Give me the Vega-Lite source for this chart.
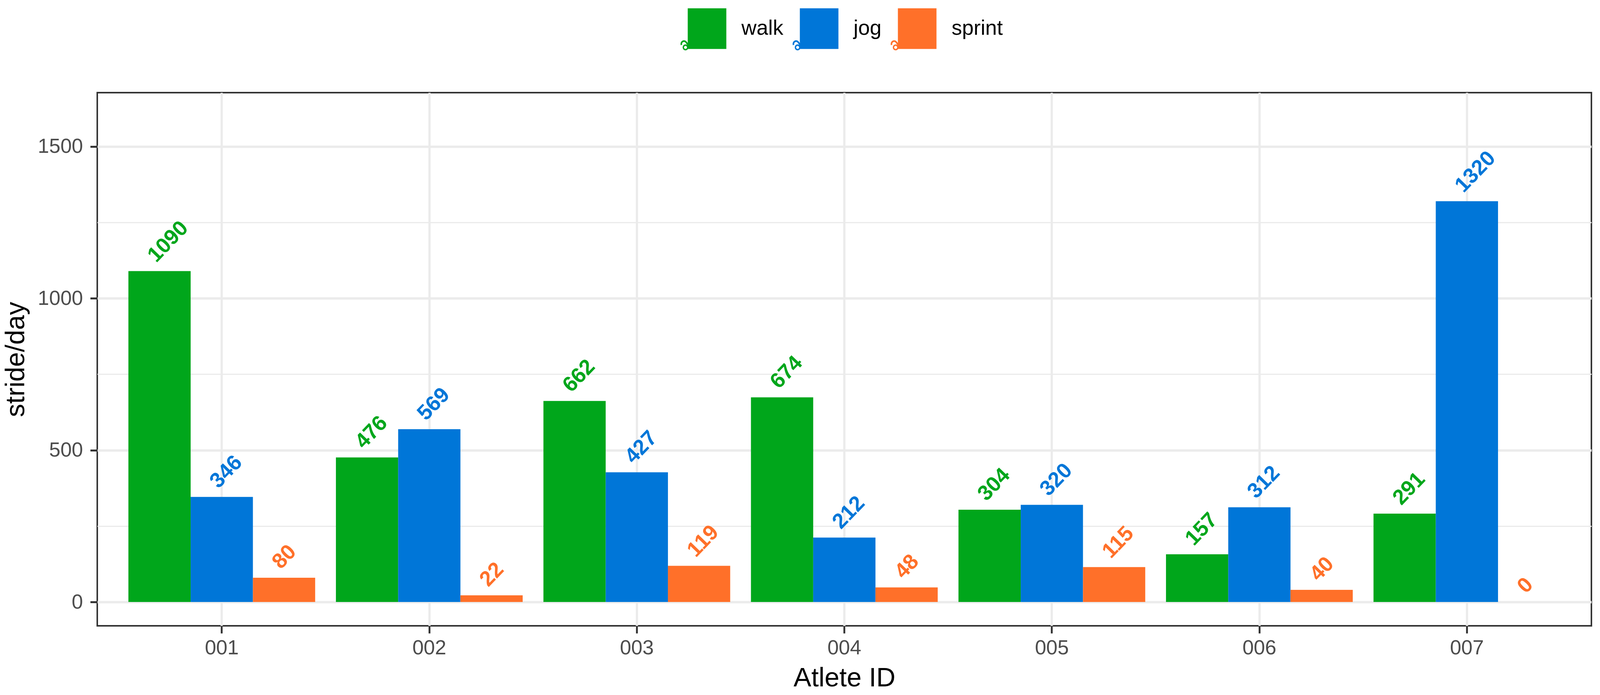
{
  "$schema": "https://vega.github.io/schema/vega-lite/v6.json",
  "autosize": {"type": "none"},
  "padding": {"left": 249, "top": 237, "right": 18, "bottom": 177},
  "width": 3825,
  "height": 1364,
  "background": "white",
  "config": {
    "font": "Liberation Sans",
    "view": {"stroke": "#333333", "strokeWidth": 3.9}
  },
  "data": {
    "values": [
      {"athlete": "001", "activity": "walk", "strides": 1090},
      {"athlete": "001", "activity": "jog", "strides": 346},
      {"athlete": "001", "activity": "sprint", "strides": 80},
      {"athlete": "002", "activity": "walk", "strides": 476},
      {"athlete": "002", "activity": "jog", "strides": 569},
      {"athlete": "002", "activity": "sprint", "strides": 22},
      {"athlete": "003", "activity": "walk", "strides": 662},
      {"athlete": "003", "activity": "jog", "strides": 427},
      {"athlete": "003", "activity": "sprint", "strides": 119},
      {"athlete": "004", "activity": "walk", "strides": 674},
      {"athlete": "004", "activity": "jog", "strides": 212},
      {"athlete": "004", "activity": "sprint", "strides": 48},
      {"athlete": "005", "activity": "walk", "strides": 304},
      {"athlete": "005", "activity": "jog", "strides": 320},
      {"athlete": "005", "activity": "sprint", "strides": 115},
      {"athlete": "006", "activity": "walk", "strides": 157},
      {"athlete": "006", "activity": "jog", "strides": 312},
      {"athlete": "006", "activity": "sprint", "strides": 40},
      {"athlete": "007", "activity": "walk", "strides": 291},
      {"athlete": "007", "activity": "jog", "strides": 1320},
      {"athlete": "007", "activity": "sprint", "strides": 0}
    ]
  },
  "encoding": {
    "x": {
      "field": "athlete", "type": "nominal", "title": "Atlete ID",
      "scale": {"paddingInner": 0.1, "paddingOuter": 0.15},
      "axis": {
        "labelAngle": 0, "labelFontSize": 52, "labelColor": "#4d4d4d", "labelPadding": 12,
        "bandPosition": 0.5, "domain": false,
        "tickColor": "#333333", "tickWidth": 4.75, "tickSize": 19,
        "grid": true, "gridColor": "#ebebeb", "gridWidth": 5.7,
        "titleFontSize": 68, "titleFontWeight": "normal", "titleColor": "black", "titlePadding": 18
      }
    },
    "xOffset": {
      "field": "activity", "type": "nominal", "sort": ["walk", "jog", "sprint"],
      "scale": {"paddingInner": 0, "paddingOuter": 0}
    },
    "y": {
      "field": "strides", "type": "quantitative", "title": "stride/day",
      "scale": {"domain": [-78.5, 1677.6], "nice": false, "zero": false},
      "axis": {
        "values": [0, 250, 500, 750, 1000, 1250, 1500],
        "format": "d",
        "labelExpr": "datum.value % 500 === 0 ? datum.label : ''",
        "labelFontSize": 52, "labelColor": "#4d4d4d", "labelPadding": 19,
        "domain": false,
        "tickColor": "#333333", "tickWidth": 5, "tickSize": 18,
        "tickOpacity": {"condition": {"test": "datum.value % 500 === 0", "value": 1}, "value": 0},
        "grid": true,
        "gridColor": "#ebebeb",
        "gridWidth": {"condition": {"test": "datum.value % 500 === 0", "value": 6}, "value": 3},
        "titleFontSize": 68, "titleFontWeight": "normal", "titleColor": "black", "titlePadding": 21
      }
    },
    "color": {
      "field": "activity", "type": "nominal", "sort": ["walk", "jog", "sprint"],
      "scale": {"domain": ["walk", "jog", "sprint"], "range": ["#00a61b", "#0076d8", "#ff7029"]},
      "legend": {
        "title": null, "orient": "none", "direction": "horizontal",
        "legendX": 1509, "legendY": -216, "padding": 0,
        "symbolType": "M-0.95,-1L0.95,-1L0.95,1L-0.95,1Z M-0.920,0.924A0.140,0.147,0,1,1,-1.200,0.924A0.140,0.147,0,1,1,-0.920,0.924Z M-0.987,0.924A0.073,0.077,0,1,0,-1.133,0.924A0.073,0.077,0,1,0,-0.987,0.924Z M-1.073,0.679L-1.014,0.627L-0.804,0.890L-0.864,0.942Z M-1.295,0.817A0.171,0.18,0,0,1,-1.003,0.639L-1.063,0.692A0.093,0.098,0,0,0,-1.222,0.789Z",
        "symbolSize": 10816, "symbolStrokeWidth": 0, "symbolOpacity": 1,
        "labelFontSize": 53.6, "labelColor": "black", "labelOffset": 36, "columnPadding": 23
      }
    }
  },
  "layer": [
    {
      "mark": {"type": "bar"},
      "encoding": {"y2": {"datum": 0}}
    },
    {
      "mark": {
        "type": "text", "angle": -46, "align": "left", "baseline": "middle",
        "dx": 8.4, "dy": -35.9, "fontSize": 54.6, "fontWeight": "bold"
      },
      "encoding": {"text": {"field": "strides", "type": "quantitative"}}
    }
  ]
}
